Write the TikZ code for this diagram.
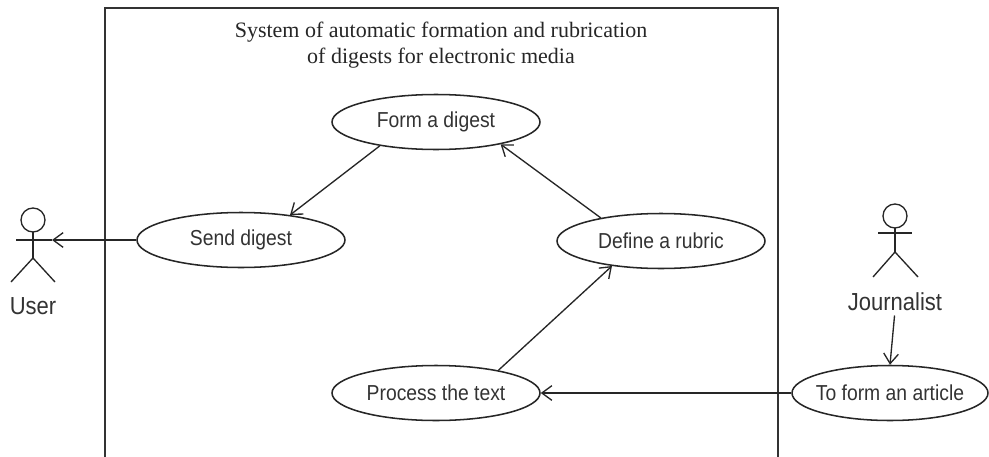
\documentclass[tikz,border=0pt]{standalone}
\usepackage{fontspec}
\usepackage{graphicx}
\setmainfont{Liberation Serif}
\newfontfamily\arialf{Liberation Sans}
\newcommand{\tallt}[1]{\scalebox{1}[1.12]{#1}}
\usetikzlibrary{shapes.geometric,arrows.meta}
\begin{document}
\begin{tikzpicture}[x=0.75pt,y=-0.75pt,
  uc/.style={ellipse,draw=black!85,line width=1.15pt,minimum width=156pt,minimum height=41.25pt,inner sep=0pt,font=\arialf\fontsize{14.5}{17}\selectfont,text=black!80},
  conn/.style={draw=black!85,line width=1pt,-{Straight Barb[length=7.5pt,width=11pt]}},
  actor/.style={draw=black!85,line width=1pt},
  alabel/.style={font=\arialf\fontsize{16.5}{19}\selectfont,text=black!80,inner sep=0pt,anchor=base},
  sysbox/.style={draw=black!80,line width=1.3pt}]
\useasboundingbox (0,0) rectangle (989,457);
\fill[white] (0,0) rectangle (989,457);
% system boundary (open at the bottom)
\draw[sysbox] (105,457) -- (105,8) -- (778,8) -- (778,457);
\node[font=\fontsize{16.5}{19.5}\selectfont,align=center,inner sep=0pt,text=black!85] (title) at (441,45)
  {System of automatic formation and rubrication\\of digests for electronic media};
% use cases
\node[uc] (form) at (436,122) {\makebox[0pt]{\tallt{Form a digest}}};
\node[uc] (send) at (241,240) {\makebox[0pt]{\tallt{Send digest}}};
\node[uc] (rub) at (661,241) {\makebox[0pt]{\tallt{Define a rubric}}};
\node[uc] (proc) at (436,393) {\makebox[0pt]{\tallt{Process the text}}};
\node[uc,minimum width=147pt] (art) at (890,393) {\makebox[0pt]{\tallt{To form an article}}};
% actor User
\draw[actor] (33,220) circle[radius=12];
\draw[actor] (16,240) -- (52,240);
\draw[actor] (33,232) -- (33,258);
\draw[actor] (11,282) -- (33,258) -- (55,282);
\coordinate (userhand) at (52,240);
\node[alabel] (ul) at (33,314) {\tallt{User}};
% actor Journalist
\draw[actor] (895,216) circle[radius=12];
\draw[actor] (878,233) -- (912,233);
\draw[actor] (895,228) -- (895,252);
\draw[actor] (873,277) -- (895,252) -- (918,277);
\node[alabel] (jl) at (895,310) {\tallt{Journalist}};
% connectors
\draw[conn] (send.west) -- (userhand);
\draw[conn] (form.203) -- (send.27);
\draw[conn] (rub.159) -- (form.341);
\draw[conn] (proc.20) -- (rub.207);
\draw[conn] (art.west) -- (proc.east);
\draw[conn,shorten <=3.75pt] (jl.south) -- (art.north);
\end{tikzpicture}
\end{document}
